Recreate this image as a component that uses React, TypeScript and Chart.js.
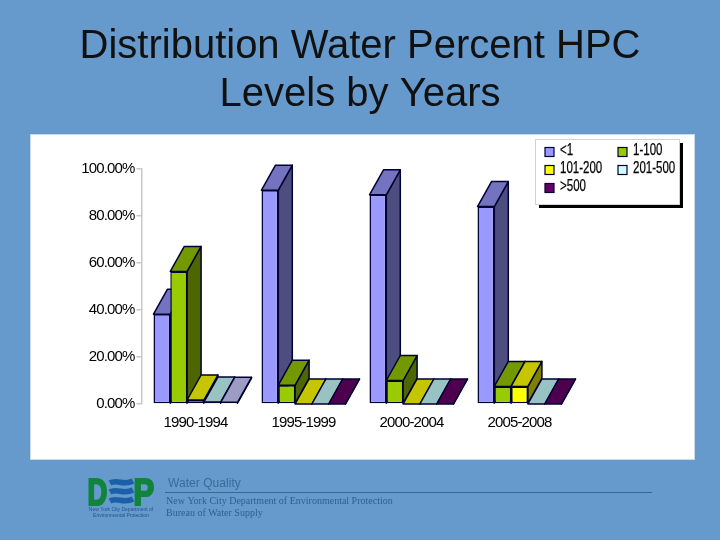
import React, { useEffect, useRef } from "react";
import { Chart, registerables } from "chart.js";

Chart.register(...registerables);

const categories = ["1990-1994", "1995-1999", "2000-2004", "2005-2008"];
const seriesNames = ["<1", "1-100", "101-200", "201-500", ">500"];
const under1 = [38.2, 91, 89, 84];
const from1to100 = [56.4, 8, 10, 7.5];
const from101to200 = [1.7, 0, 0, 7.5];
const from201to500 = [0.8, 0, 0, 0];
const over500 = [0.7, 0, 0, 0];
const seriesValues = [under1, from1to100, from101to200, from201to500, over500];

const titleLines = ["Distribution Water Percent HPC", "Levels by Years"];
const footerHeading = "Water Quality";
const footerLines = ["New York City Department of Environmental Protection", "Bureau of Water Supply"];
const logoLines = ["New York City Department of", "Environmental Protection"];

const frontColors = [
  ["#9999FF", "#9999FF", "#9999FF", "#9999FF"],
  ["#99CC00", "#99CC00", "#99CC00", "#99CC00"],
  ["#FFFF00", "#FFFF00", "#FFFF00", "#FFFF00"],
  ["#CCFFFF", "#CCFFFF", "#CCFFFF", "#CCFFFF"],
  ["#A8A8D8", "#660066", "#660066", "#660066"],
];
const topColors = [
  ["#7373C0", "#7373C0", "#7373C0", "#7373C0"],
  ["#739900", "#739900", "#739900", "#739900"],
  ["#C6C600", "#C6C600", "#C6C600", "#C6C600"],
  ["#99C2C2", "#99C2C2", "#99C2C2", "#99C2C2"],
  ["#9C9CC4", "#4D004D", "#4D004D", "#4D004D"],
];
const sideColors = [
  ["#4D4D80", "#4D4D80", "#4D4D80", "#4D4D80"],
  ["#4D6600", "#4D6600", "#4D6600", "#4D6600"],
  ["#808000", "#808000", "#808000", "#808000"],
  ["#668080", "#668080", "#668080", "#668080"],
  ["#505080", "#330033", "#330033", "#330033"],
];
const legendSwatches = ["#9999FF", "#99CC00", "#FFFF00", "#CCFFFF", "#660066"];

const DEPTH_X = 14;
const DEPTH_Y = 25;
const EDGE = "#000033";
const SANS = '"Liberation Sans", Arial, sans-serif';

function poly(ctx: CanvasRenderingContext2D, pts: number[][], fill: string) {
  ctx.beginPath();
  pts.forEach((p, i) => (i ? ctx.lineTo(p[0], p[1]) : ctx.moveTo(p[0], p[1])));
  ctx.closePath();
  ctx.fillStyle = fill;
  ctx.fill();
  ctx.strokeStyle = EDGE;
  ctx.lineWidth = 1.5;
  ctx.lineJoin = "round";
  ctx.stroke();
}

function squeezedText(ctx: CanvasRenderingContext2D, text: string, x: number, y: number, sx: number, stroke = 0) {
  ctx.save();
  ctx.translate(x, y);
  ctx.scale(sx, 1);
  ctx.fillText(text, 0, 0);
  if (stroke) {
    ctx.lineWidth = stroke;
    ctx.strokeStyle = ctx.fillStyle;
    ctx.strokeText(text, 0, 0);
  }
  ctx.restore();
}

const backdropPlugin = {
  id: "backdrop",
  beforeDraw(chart: any) {
    const ctx: any = chart.ctx;
    ctx.letterSpacing = "0px";
    ctx.save();
    ctx.fillStyle = "#6699CC";
    ctx.fillRect(0, 0, 720, 540);
    ctx.fillStyle = "#FFFFFF";
    ctx.strokeStyle = "#C9D9E8";
    ctx.lineWidth = 1;
    ctx.fillRect(30.5, 134.5, 664, 325);
    ctx.strokeRect(30.5, 134.5, 664, 325);

    // footer
    ctx.textBaseline = "alphabetic";
    ctx.textAlign = "left";
    ctx.fillStyle = "#3B6A9C";
    ctx.font = `12px ${SANS}`;
    ctx.letterSpacing = "0.05px";
    ctx.fillText(footerHeading, 168, 487);
    ctx.letterSpacing = "0px";
    ctx.font = '10px "Liberation Serif", serif';
    ctx.fillStyle = "#2F5F92";
    ctx.fillText(footerLines[0], 166, 504);
    ctx.fillText(footerLines[1], 166, 516);
    ctx.strokeStyle = "#35659A";
    ctx.beginPath();
    ctx.moveTo(165, 492.5);
    ctx.lineTo(652, 492.5);
    ctx.stroke();

    // logo
    ctx.fillStyle = "#11843C";
    ctx.font = `700 37px ${SANS}`;
    squeezedText(ctx, "D", 87.5, 504.5, 0.74, 2.2);
    squeezedText(ctx, "P", 133.5, 504.5, 0.84, 2.2);
    ctx.strokeStyle = "#1B5FA8";
    ctx.lineWidth = 5.5;
    [482, 491, 500].forEach((y) => {
      ctx.beginPath();
      ctx.moveTo(110, y + 1);
      ctx.bezierCurveTo(117, y - 3, 124, y + 4, 133, y - 1);
      ctx.stroke();
    });
    ctx.fillStyle = "#1F5590";
    ctx.font = `5px ${SANS}`;
    ctx.textAlign = "center";
    ctx.fillText(logoLines[0], 121, 511);
    ctx.fillText(logoLines[1], 121, 517);
    ctx.restore();
  },
  beforeDatasetsDraw(chart: any) {
    const ctx: any = chart.ctx;
    chart.data.datasets.forEach((_: any, i: number) => {
      const meta = chart.getDatasetMeta(i);
      ctx.save();
      meta.data.forEach((bar: any, j: number) => {
        const left = bar.x - bar.width / 2;
        const right = bar.x + bar.width / 2;
        const y = bar.y;
        const base = bar.base;
        poly(
          ctx,
          [
            [right, y],
            [right + DEPTH_X, y - DEPTH_Y],
            [right + DEPTH_X, base - DEPTH_Y],
            [right, base],
          ],
          sideColors[i][j]
        );
        poly(
          ctx,
          [
            [left, y],
            [left + DEPTH_X, y - DEPTH_Y],
            [right + DEPTH_X, y - DEPTH_Y],
            [right, y],
          ],
          topColors[i][j]
        );
      });
      ctx.restore();
      meta.controller.draw();
    });
    // Tick labels are drawn after this hook (ticks.z = 1) and are tightly set in the reference.
    ctx.letterSpacing = "-0.85px";
    return false;
  },
  afterDraw(chart: any) {
    const ctx: any = chart.ctx;
    ctx.letterSpacing = "0px";
    ctx.save();
    ctx.fillStyle = "#000000";
    ctx.fillRect(539, 143, 144, 65);
    ctx.fillStyle = "#FFFFFF";
    ctx.strokeStyle = "#D2D2D2";
    ctx.lineWidth = 1;
    ctx.fillRect(535.5, 139.5, 144, 65);
    ctx.strokeRect(535.5, 139.5, 144, 65);
    const xs = [545, 618];
    const ys = [152, 170, 188];
    ctx.font = `16px ${SANS}`;
    ctx.textBaseline = "middle";
    ctx.textAlign = "left";
    chart.data.datasets.forEach((d: any, k: number) => {
      const x = xs[k % 2];
      const y = ys[Math.floor(k / 2)];
      ctx.fillStyle = legendSwatches[k];
      ctx.strokeStyle = EDGE;
      ctx.lineWidth = 1.2;
      ctx.fillRect(x, y - 4.5, 9, 9);
      ctx.strokeRect(x, y - 4.5, 9, 9);
      ctx.fillStyle = "#000000";
      squeezedText(ctx, d.label, x + 15, y - 1, 0.72, 0.25);
    });
    ctx.restore();
  },
};

export default function App() {
  const ref = useRef<HTMLCanvasElement | null>(null);
  useEffect(() => {
    const chart = new Chart(ref.current as HTMLCanvasElement, {
      type: "bar",
      data: {
        labels: categories,
        datasets: seriesNames.map((name, i) => ({
          label: name,
          data: seriesValues[i],
          backgroundColor: frontColors[i],
          borderColor: EDGE,
          borderWidth: 1.5,
          borderSkipped: false,
          clip: false,
          categoryPercentage: 0.778,
          barPercentage: 1,
        })),
      } as any,
      options: {
        animation: false,
        responsive: false,
        events: [],
        layout: { padding: { left: 0, right: 0, top: 0, bottom: 96 } },
        plugins: {
          legend: { display: false },
          tooltip: { enabled: false },
          title: {
            display: true,
            text: titleLines,
            color: "#111111",
            font: { family: SANS, size: 40, weight: "normal", lineHeight: 1.2 },
            padding: { top: 23, bottom: 50 },
          },
        },
        scales: {
          x: {
            grid: { display: false },
            border: { display: false },
            ticks: {
              z: 1,
              color: "#000000",
              padding: 2,
              maxRotation: 0,
              font: { family: SANS, size: 15 },
            },
            afterFit(scale: any) {
              scale.height = 40;
            },
          },
          y: {
            min: 0,
            max: 100,
            grid: { drawOnChartArea: false, color: "#C8C8C8", tickLength: 5, lineWidth: 1.5 },
            border: { color: "#C8C8C8", width: 1.5 },
            ticks: {
              z: 1,
              stepSize: 20,
              color: "#000000",
              padding: 2,
              font: { family: SANS, size: 15 },
              callback: (v: any) => `${Number(v).toFixed(2)}%`,
            },
            afterFit(scale: any) {
              scale.width = 141.5;
            },
          },
          // Empty right-hand axis: reserves the blank strip so the title can still centre on the page.
          spacer: {
            type: "linear",
            position: "right",
            grid: { display: false },
            border: { display: false },
            ticks: { display: false },
            afterFit(scale: any) {
              scale.width = 146.5;
            },
          },
        },
      } as any,
      plugins: [backdropPlugin as any],
    });
    return () => chart.destroy();
  }, []);
  return (
    <div style={{ position: "absolute", left: 0, top: 0, width: 720, height: 540 }}>
      <canvas ref={ref} width={720} height={540} style={{ display: "block" }} />
    </div>
  );
}
